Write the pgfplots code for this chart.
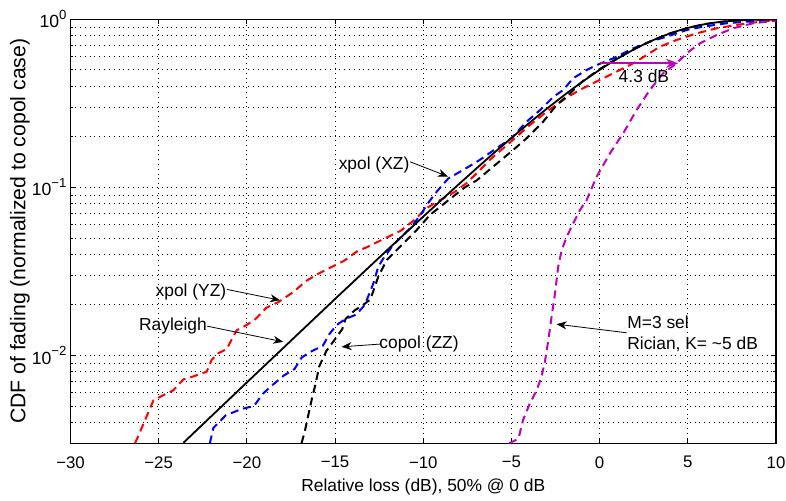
\documentclass[border=0pt]{standalone}
\usepackage{fontspec}
\setmainfont{Liberation Sans}
\usepackage{pgfplots}
\pgfplotsset{compat=1.18}
\usetikzlibrary{arrows.meta}
\definecolor{mag}{RGB}{191,0,191}
\definecolor{dred}{RGB}{255,0,0}
\definecolor{dblue}{RGB}{0,0,255}
\newcommand{\sups}[1]{\raisebox{0.9ex}{\fontsize{6.6}{7}\selectfont #1}}
\begin{document}
\begin{tikzpicture}
\begin{axis}[
 scale only axis, width=352.75pt, height=212pt,
 xmin=-30, xmax=10, ymode=log, ymin=0.003, ymax=1,
 xtick={-30,-25,-20,-15,-10,-5,0,5,10},
 xticklabels={−30,−25,−20,−15,−10,−5,0,5,10},
 ytick={0.01,0.1,1},
 yticklabels={10\sups{−2},10\sups{−1},10\sups{0}},
 minor ytick={0.003,0.004,0.005,0.006,0.007,0.008,0.009,0.02,0.03,0.04,0.05,0.06,0.07,0.08,0.09,0.2,0.3,0.4,0.5,0.6,0.7,0.8,0.9},
 grid=both,
 major grid style={black, dotted, line width=0.4pt},
 minor grid style={black, dotted, line width=0.4pt},
 tick align=inside, major tick length=2.5pt, minor tick length=1.5pt,
 every tick/.style={black, line width=0.4pt},
 axis line style={black, line width=0.7pt},
 ticklabel style={font=\fontsize{8.4}{10}\selectfont},
 xticklabel style={yshift=-3pt},
 yticklabel style={xshift=1.5pt, font=\fontsize{8.8}{10}\selectfont},
 xlabel={Relative loss (dB), 50\% @ 0 dB},
 ylabel={CDF of fading (normalized to copol case)},
 xlabel style={font=\fontsize{8.7}{10}\selectfont, at={(axis description cs:0.5,-0.103)}, anchor=center},
 ylabel style={font=\fontsize{10.6}{12}\selectfont, at={(axis description cs:-0.0716,0.5)}, anchor=center},
 clip=true,
]
\coordinate (bl) at (rel axis cs:0,0);
\coordinate (tr) at (rel axis cs:1,1);

% xpol (YZ) red
\addplot[dred, line width=1pt, dash pattern=on 4pt off 2.5pt] coordinates {
(-26.34,0.003) (-25.87,0.0039) (-25.3,0.0054) (-24.74,0.0058) (-24.17,0.0062) (-23.6,0.0072) (-23.04,0.0075) (-22.28,0.0080) (-22.0,0.0094) (-21.62,0.0103) (-21.14,0.0109) (-20.77,0.0130) (-20.58,0.0141) (-20.0,0.0152) (-19.5,0.0165) (-18.9,0.0192) (-18.2,0.0208) (-17.4,0.0237) (-16.6,0.0279) (-15.86,0.031) (-15.1,0.0340) (-14.5,0.0365) (-13.7,0.042) (-13.2,0.044) (-12.3,0.049) (-11.3,0.055) (-10.5,0.064) (-9.81,0.0752) (-9.05,0.084) (-8.2,0.0942) (-7.54,0.106) (-6.78,0.127) (-6.22,0.146) (-5.46,0.171) (-4.71,0.20) (-3.95,0.235) (-3.0,0.282) (-1.87,0.342) (-1.12,0.380) (0,0.435) (0.96,0.488) (1.91,0.547) (2.67,0.613) (3.42,0.687) (4.36,0.753) (5.5,0.825) (6.63,0.884) (7.76,0.925) (9.09,0.968) (10,0.99)
};
% xpol (XZ) blue
\addplot[dblue, line width=1pt, dash pattern=on 4pt off 2.5pt] coordinates {
(-22.1,0.003) (-21.9,0.0037) (-21.2,0.0044) (-20.3,0.0048) (-19.6,0.0050) (-19.1,0.0059) (-18.6,0.0066) (-17.9,0.0076) (-17.3,0.0083) (-16.9,0.0097) (-16.4,0.0105) (-15.7,0.0114) (-15.3,0.0135) (-14.9,0.0152) (-14.4,0.0165) (-13.8,0.0175) (-13.4,0.0195) (-13.2,0.0214) (-12.83,0.0268) (-12.55,0.0337) (-12.27,0.0377) (-11.7,0.0454) (-10.66,0.0584) (-10.09,0.070) (-9.81,0.0785) (-9.24,0.0942) (-8.58,0.113) (-7.73,0.127) (-6.78,0.146) (-5.84,0.171) (-5.0,0.196) (-4.14,0.246) (-3.38,0.288) (-2.63,0.345) (-2.06,0.38) (-1.5,0.446) (-0.74,0.499) (-0.17,0.534) (0.77,0.586) (1.91,0.672) (2.85,0.736) (3.8,0.788) (4.93,0.863) (5.87,0.904) (7.2,0.947) (8.33,0.968) (9.84,0.99) (10,0.99)
};
% copol (ZZ) black dashed
\addplot[black, line width=1pt, dash pattern=on 4pt off 2.5pt] coordinates {
(-16.9,0.003) (-16.7,0.0036) (-16.5,0.0045) (-16.3,0.0056) (-16.1,0.0068) (-15.9,0.0086) (-15.5,0.0106) (-15.0,0.0125) (-14.6,0.0143) (-14.4,0.0165) (-13.9,0.0185) (-13.4,0.0200) (-13.0,0.0215) (-12.55,0.0294) (-12.07,0.037) (-11.13,0.0464) (-10.37,0.0558) (-9.62,0.0685) (-8.67,0.0823) (-7.64,0.100) (-6.97,0.110) (-6.03,0.133) (-4.9,0.167) (-4.14,0.196) (-3.2,0.246) (-2.44,0.309) (-1.68,0.362) (-1,0.425) (0,0.505) (1,0.585) (2,0.668) (3,0.75) (4,0.825) (5,0.888) (6,0.937) (7,0.969) (8,0.987) (9,0.996) (10,0.999)
};
% M=3 sel Rician magenta
\addplot[mag, line width=1pt, dash pattern=on 4pt off 2.5pt] coordinates {
(-5.12,0.003) (-4.6,0.0032) (-4.35,0.0041) (-3.95,0.0052) (-3.57,0.0062) (-3.29,0.0075) (-3.1,0.0092) (-2.91,0.0123) (-2.72,0.0171) (-2.53,0.0234) (-2.35,0.0337) (-2.15,0.0423) (-1.87,0.0508) (-1.5,0.0609) (-1.12,0.0732) (-0.74,0.0838) (-0.17,0.1158) (0.58,0.159) (1.34,0.21) (2.1,0.289) (2.85,0.38) (3.6,0.477) (4.36,0.547) (4.93,0.627) (5.69,0.72) (6.63,0.806) (7.57,0.884) (8.7,0.947) (9.84,0.977) (10,0.98)
};
% Rayleigh black solid
\addplot[black, line width=0.9pt] coordinates {
(-23.6,0.00302) (-20,0.00691) (-15,0.02168) (-12,0.04279) (-10,0.06697) (-9,0.08356) (-8,0.10403) (-7,0.12915) (-6,0.16) (-5,0.19683) (-4,0.24114) (-3,0.29349) (-2,0.35425) (-1.5,0.388) (-1,0.42338) (-0.5,0.4609) (0,0.5) (0.5,0.5405) (1,0.5821) (1.5,0.6243) (2,0.66663) (2.5,0.7084) (3,0.74917) (3.5,0.7881) (4,0.82463) (4.5,0.8582) (5,0.88829) (5.5,0.9145) (6,0.93666) (6.5,0.9548) (7,0.969) (7.5,0.9797) (8,0.98739) (8.5,0.9926) (9,0.99593) (10,0.99902)
};

% annotations
\node[font=\fontsize{8.7}{10}\selectfont] at (axis cs:-12.79,0.1358) {xpol (XZ)};
\draw[black, line width=0.4pt, -{Stealth[length=5pt,width=4pt]}] (axis cs:-10.75,0.142) -- (axis cs:-8.6,0.116);
\node[font=\fontsize{8.7}{10}\selectfont] at (axis cs:-23.17,0.0238) {xpol (YZ)};
\draw[black, line width=0.4pt, -{Stealth[length=5pt,width=4pt]}] (axis cs:-21.13,0.0247) -- (axis cs:-18.12,0.0213);
\node[font=\fontsize{8.7}{10}\selectfont] at (axis cs:-24.19,0.01494) {Rayleigh};
\draw[black, line width=0.4pt, -{Stealth[length=5pt,width=4pt]}] (axis cs:-22.26,0.01494) -- (axis cs:-17.94,0.01205);
\node[font=\fontsize{8.7}{10}\selectfont] at (axis cs:-10.24,0.01168) {copol (ZZ)};
\draw[black, line width=0.4pt, -{Stealth[length=5pt,width=4pt]}] (axis cs:-12.45,0.01168) -- (axis cs:-14.63,0.01125);
\node[font=\fontsize{8.7}{10.5}\selectfont, anchor=west, align=left, inner sep=0pt] at (axis cs:1.55,0.01349) {M=3 sel\\Rician, K= \textasciitilde5 dB};
\draw[black, line width=0.4pt, -{Stealth[length=5pt,width=4pt]}] (axis cs:1.53,0.01364) -- (axis cs:-2.44,0.01535);
\draw[mag, line width=0.9pt, -{Stealth[length=6pt,width=4.5pt]}] (axis cs:0,0.547) -- (axis cs:4.45,0.547);
\node[font=\fontsize{8.7}{10}\selectfont] at (axis cs:2.51,0.457) {4.3 dB};
\end{axis}
\pgfresetboundingbox
\useasboundingbox ([shift={(-35.25pt,-28.85pt)}]bl) rectangle ([shift={(5pt,9.65pt)}]tr);
\end{tikzpicture}
\end{document}
